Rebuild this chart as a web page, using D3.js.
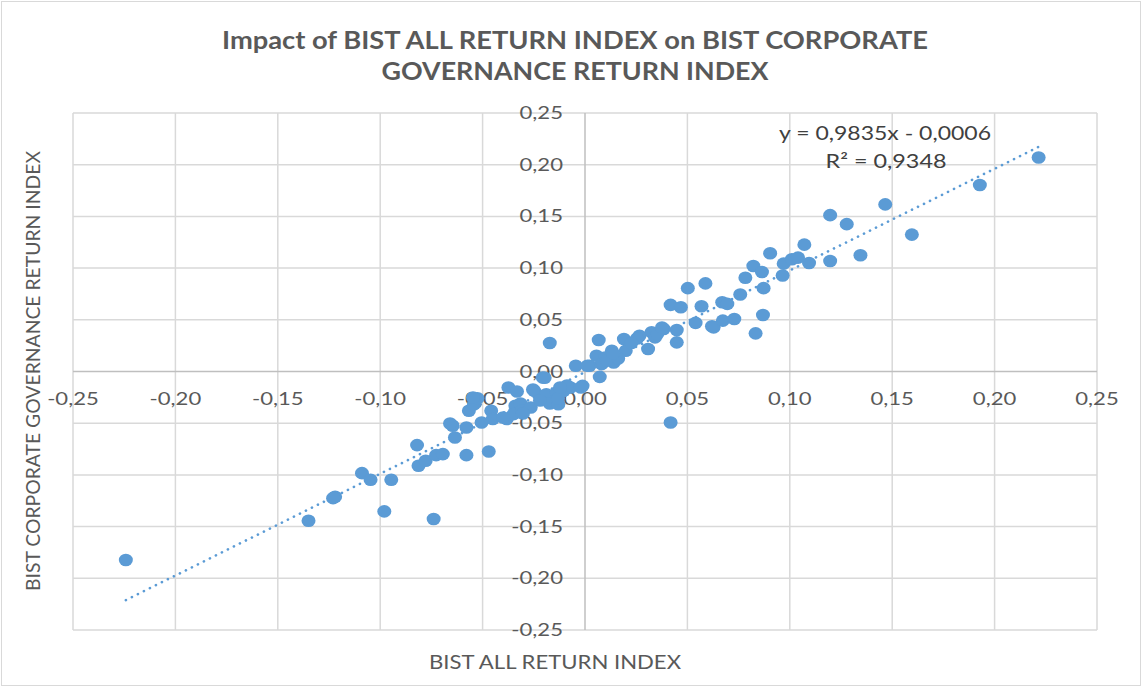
<!DOCTYPE html>
<html>
<head>
<meta charset="utf-8">
<script src="https://cdn.jsdelivr.net/npm/d3@7"></script>
<style>
  body { margin: 0; background: #fff; }
  svg { display: block; font-family: Lato, 'Open Sans', sans-serif; }
</style>
</head>
<body>
<svg></svg>
<script>

let titleLines = ['Impact of BIST ALL RETURN INDEX on BIST CORPORATE', 'GOVERNANCE RETURN INDEX']
let xTitle = 'BIST ALL RETURN INDEX'
let yTitle = 'BIST CORPORATE GOVERNANCE RETURN INDEX'
let ticks = [-0.25, -0.20, -0.15, -0.10, -0.05, 0, 0.05, 0.10, 0.15, 0.20, 0.25]
let slope = 0.9835
let intercept = -0.0006
let eqText = 'y = 0,9835x - 0,0006'
let r2Text = 'R² = 0,9348'

// monthly returns
let allReturn = [
  0.2215, 0.1928, 0.1466, 0.1596, 0.1197, 0.1278, 0.1345, 0.1197, 0.1071, 0.0904,
  0.0970, 0.1010, 0.1040, 0.1094, 0.0965, 0.0822, 0.0864, 0.0783, 0.0872, 0.0758,
  0.0869, 0.0833, 0.0502, 0.0588, 0.0418, 0.0468, 0.0569, 0.0670, 0.0695, 0.0540,
  0.0620, 0.0628, 0.0673, 0.0729, 0.0448, 0.0448, 0.0384, 0.0325, 0.0342, 0.0308,
  0.0266, 0.0190, 0.0199, 0.0131, 0.0140, 0.0067, 0.0056, 0.0098, 0.0081, 0.0022,
  0.0072, -0.0012, 0.0418, 0.0254, 0.0107, 0.0162, 0.0226, 0.0353, 0.0376, 0.0137,
  -0.2242, -0.1350, -0.1220, -0.1230, -0.1089, -0.1047, -0.0946, -0.0980, -0.0739, -0.0820,
  -0.0813, -0.0778, -0.0727, -0.0694, -0.0579, -0.0470, -0.0635, -0.0646, -0.0579, -0.0567,
  -0.0542, -0.0525, -0.0505, -0.0458, -0.0450, -0.0382, -0.0374, -0.0332, -0.0340, -0.0315,
  -0.0349, -0.0307, -0.0265, -0.0248, -0.0206, -0.0189, -0.0172, -0.0130, -0.0138, -0.0104,
  -0.0071, -0.0020, -0.0045, 0.0012, -0.0172, -0.0197, -0.0254, -0.0088, -0.0132, -0.0220,
  -0.0400, -0.0303, -0.0547, -0.0659, -0.0122
]
let govReturn = [
  0.2069, 0.1804, 0.1616, 0.1324, 0.1512, 0.1425, 0.1124, 0.1069, 0.1227, 0.1143,
  0.1043, 0.1085, 0.1101, 0.1049, 0.0929, 0.1020, 0.0962, 0.0907, 0.0806, 0.0745,
  0.0547, 0.0369, 0.0806, 0.0852, 0.0644, 0.0622, 0.0631, 0.0670, 0.0654, 0.0470,
  0.0437, 0.0427, 0.0492, 0.0508, 0.0401, 0.0282, 0.0411, 0.0379, 0.0330, 0.0217,
  0.0346, 0.0314, 0.0201, 0.0201, 0.0087, 0.0304, 0.0152, 0.0136, 0.0071, 0.0055,
  -0.0052, -0.0139, -0.0493, 0.0319, 0.0106, 0.0125, 0.0276, 0.0362, 0.0426, 0.0174,
  -0.1823, -0.1443, -0.1211, -0.1225, -0.0983, -0.1047, -0.1047, -0.1353, -0.1427, -0.0712,
  -0.0912, -0.0863, -0.0809, -0.0799, -0.0809, -0.0773, -0.0638, -0.0525, -0.0541, -0.0380,
  -0.0316, -0.0258, -0.0493, -0.0380, -0.0460, -0.0460, -0.0155, -0.0193, -0.0332, -0.0310,
  -0.0412, -0.0380, -0.0348, -0.0187, -0.0058, -0.0220, -0.0310, -0.0316, -0.0203, -0.0187,
  -0.0155, -0.0155, 0.0055, 0.0055, 0.0276, -0.0060, -0.0174, -0.0135, -0.0261, -0.0280,
  -0.0445, -0.0406, -0.0251, -0.0503, -0.0155
]

let width = 1143, height = 688
let blue = '#5b9bd5'
let textGrey = '#595959'

let svg = d3.select('svg').attr('width', width).attr('height', height)

let x = d3.scaleLinear().domain([-0.25, 0.25]).range([73, 1097])
let y = d3.scaleLinear().domain([-0.25, 0.25]).range([630, 113])

let fmt = d3.formatLocale({ decimal: ',', thousands: '.', grouping: [3], currency: ['', ''], minus: '-' }).format('.2f')

function stretch(sel, k) {
  sel.each(function () {
    d3.select(this)
      .attr('textLength', this.getComputedTextLength() * k)
      .attr('lengthAdjust', 'spacingAndGlyphs')
  })
}

function fit(sel, w) {
  sel.attr('textLength', w).attr('lengthAdjust', 'spacingAndGlyphs')
}

svg.append('rect')
  .attr('x', 1.5).attr('y', 1.5)
  .attr('width', width - 4).attr('height', height - 4)
  .attr('fill', '#fff')
  .attr('stroke', '#d9d9d9')

// grid
svg.append('g')
  .selectAll('line')
  .data(ticks.filter(d => d !== 0))
  .enter().append('line')
  .attr('x1', d => x(d)).attr('x2', d => x(d))
  .attr('y1', y(0.25)).attr('y2', y(-0.25))
  .attr('stroke', '#d9d9d9').attr('stroke-width', 1.5)

svg.append('g')
  .selectAll('line')
  .data(ticks.filter(d => d !== 0))
  .enter().append('line')
  .attr('x1', x(-0.25)).attr('x2', x(0.25))
  .attr('y1', d => y(d)).attr('y2', d => y(d))
  .attr('stroke', '#d9d9d9').attr('stroke-width', 1.5)

// zero axes
svg.append('line')
  .attr('x1', x(0)).attr('x2', x(0))
  .attr('y1', y(0.25)).attr('y2', y(-0.25))
  .attr('stroke', '#bfbfbf').attr('stroke-width', 1.5)

svg.append('line')
  .attr('x1', x(-0.25)).attr('x2', x(0.25))
  .attr('y1', y(0)).attr('y2', y(0))
  .attr('stroke', '#bfbfbf').attr('stroke-width', 1.5)

// tick labels
svg.append('g')
  .selectAll('text')
  .data(ticks)
  .enter().append('text')
  .attr('x', x(0) - 22)
  .attr('y', d => y(d) + 6)
  .attr('text-anchor', 'end')
  .attr('font-size', 17)
  .attr('fill', textGrey)
  .text(d => fmt(d))
  .call(stretch, 1.3)

svg.append('g')
  .selectAll('text')
  .data(ticks)
  .enter().append('text')
  .attr('x', d => x(d))
  .attr('y', y(0) + 33)
  .attr('text-anchor', 'middle')
  .attr('font-size', 17)
  .attr('fill', textGrey)
  .text(d => fmt(d))
  .call(stretch, 1.3)

// trendline
let xr = d3.extent(allReturn)
svg.append('line')
  .attr('x1', x(xr[0])).attr('y1', y(slope * xr[0] + intercept))
  .attr('x2', x(xr[1])).attr('y2', y(slope * xr[1] + intercept))
  .attr('stroke', blue)
  .attr('stroke-width', 2.6)
  .attr('stroke-linecap', 'round')
  .attr('stroke-dasharray', '0.1 6.6')

// points
svg.append('g')
  .selectAll('ellipse')
  .data(allReturn)
  .enter().append('ellipse')
  .attr('cx', d => x(d))
  .attr('cy', (d, i) => y(govReturn[i]))
  .attr('rx', 7)
  .attr('ry', 6.3)
  .attr('fill', blue)

// equation
svg.append('text')
  .attr('x', 885).attr('y', 140)
  .attr('text-anchor', 'middle')
  .attr('font-size', 19)
  .attr('fill', '#404040')
  .text(eqText)
  .call(fit, 212)

svg.append('text')
  .attr('x', 886).attr('y', 168)
  .attr('text-anchor', 'middle')
  .attr('font-size', 19)
  .attr('fill', '#404040')
  .text(r2Text)
  .call(fit, 121)

// titles
svg.append('text')
  .attr('x', 575).attr('y', 49)
  .attr('text-anchor', 'middle')
  .attr('font-size', 24)
  .attr('font-weight', 'bold')
  .attr('fill', textGrey)
  .text(titleLines[0])
  .call(fit, 706)

svg.append('text')
  .attr('x', 575).attr('y', 80)
  .attr('text-anchor', 'middle')
  .attr('font-size', 24)
  .attr('font-weight', 'bold')
  .attr('fill', textGrey)
  .text(titleLines[1])
  .call(fit, 387)

svg.append('text')
  .attr('x', 555).attr('y', 669)
  .attr('text-anchor', 'middle')
  .attr('font-size', 19)
  .attr('fill', textGrey)
  .text(xTitle)
  .call(fit, 252)

svg.append('text')
  .attr('transform', 'translate(40,371) rotate(-90)')
  .attr('text-anchor', 'middle')
  .attr('font-size', 19)
  .attr('fill', textGrey)
  .text(yTitle)
  .call(fit, 440)

</script>
</body>
</html>
